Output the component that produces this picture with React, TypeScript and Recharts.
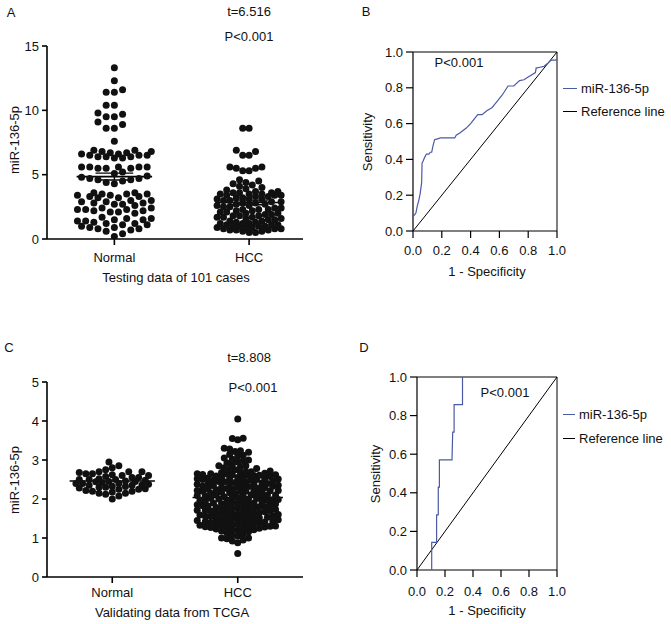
import { ScatterChart, Scatter, XAxis, YAxis, ReferenceLine } from 'recharts';

const FONT = '"Liberation Sans", Arial, Helvetica, sans-serif';
const INK = '#111';
const ROC_BLUE = '#4a5aa6';
const Y_AXIS_W = 40;
const X_AXIS_H = 30;

// ── data ────────────────────────────────────────────────────────────────
const GROUPS = ['Normal', 'HCC'];

const A_NORMAL = [
    13.3, 12.3, 11.6, 11.4, 11.4, 10.4, 10.4, 9.8, 9.7, 9.5, 9.5, 9.1, 8.9, 8.6, 8.6, 7.6,
    6.9, 6.9, 6.8, 6.8, 6.7, 6.7, 6.6, 6.6, 6.5, 6.5, 6.5, 6.4, 6.4, 6.4, 6.3, 6.3,
    5.6, 5.6, 5.6, 5.6, 5.6, 5.5, 5.5, 5.5, 5.2, 5.1,
    4.9, 4.8, 4.7, 4.7, 4.6, 4.6, 4.5, 4.4, 4.3,
    3.6, 3.6, 3.5, 3.5, 3.5, 3.4, 3.4, 3.3, 3.3, 3.2, 3.2,
    3.0, 3.0, 2.9, 2.9, 2.8, 2.8, 2.7, 2.7, 2.6,
    2.4, 2.4, 2.3, 2.3, 2.3, 2.2, 2.2, 2.1, 2.1, 2.0,
    1.7, 1.6, 1.6, 1.5, 1.5, 1.4, 1.4,
    1.3, 1.2, 1.2, 1.1, 1.1, 1.0,
    0.9, 0.9, 0.8, 0.8, 0.7,
    0.6, 0.4, 0.2,
];
const A_HCC = [
    8.6, 8.6, 6.9, 6.8, 6.5, 6.5, 5.6, 5.6, 5.5, 5.5, 5.3, 5.3, 4.6, 4.5, 4.4, 4.3, 4.2, 4.1, 4.0, 3.9,
    3.8, 3.7, 3.7, 3.6, 3.6, 3.6, 3.5, 3.5, 3.5, 3.4, 3.4, 3.4, 3.3, 3.3,
    3.2, 3.2, 3.1, 3.1, 3.1, 3.0, 3.0, 2.9, 2.9, 2.8, 2.8, 2.7, 2.7, 2.6, 2.6,
    2.5, 2.5, 2.4, 2.4, 2.3, 2.3, 2.3, 2.2, 2.2, 2.1, 2.1, 2.0, 2.0,
    1.9, 1.9, 1.8, 1.8, 1.8, 1.7, 1.7, 1.7, 1.6, 1.6, 1.5, 1.5, 1.4, 1.4,
    1.3, 1.3, 1.2, 1.2, 1.2, 1.1, 1.1, 1.1, 1.0, 1.0, 1.0, 1.0,
    0.9, 0.9, 0.9, 0.8, 0.8, 0.8, 0.7, 0.7, 0.7, 0.6, 0.6, 0.5, 0.5,
];
const A_MEANS = [4.85, 2.84];
const A_SEM_LOW = [4.58, 2.66];
const A_SEM_HIGH = [5.12, 3.02];
const A_Y_TICKS = [0, 5, 10, 15];

const C_NORMAL = [
    2.95, 2.85, 2.8, 2.75, 2.7, 2.7, 2.7, 2.68, 2.65, 2.65, 2.62, 2.6, 2.6, 2.58, 2.55, 2.55, 2.52,
    2.5, 2.5, 2.5, 2.48, 2.46, 2.45, 2.45, 2.44, 2.42, 2.4, 2.4, 2.4, 2.38, 2.36, 2.35, 2.35,
    2.33, 2.32, 2.3, 2.3, 2.28, 2.26, 2.25, 2.25, 2.22, 2.2, 2.2, 2.18, 2.15, 2.15, 2.12, 2.08, 2.0,
];
const C_HCC = [
    4.05, 3.56, 3.55, 3.52, 3.3, 3.28, 3.24, 3.22, 3.2, 3.14, 3.12, 3.1, 3.05, 3.02, 3.0,
    2.98, 2.95, 2.92, 2.88, 2.85, 2.85, 2.82, 2.8, 2.78, 2.76, 2.75, 2.72, 2.7, 2.7,
    2.68, 2.67, 2.66, 2.65, 2.65, 2.64, 2.63, 2.62, 2.62, 2.61, 2.6, 2.6, 2.59, 2.58,
    2.56, 2.55, 2.55, 2.54, 2.53, 2.52, 2.52, 2.51, 2.5, 2.5, 2.49, 2.48,
    2.46, 2.45, 2.44, 2.44, 2.43, 2.42, 2.41, 2.4, 2.4, 2.39, 2.38, 2.37,
    2.35, 2.34, 2.33, 2.33, 2.32, 2.31, 2.3, 2.3, 2.29, 2.28, 2.27, 2.26,
    2.25, 2.24, 2.23, 2.22, 2.22, 2.21, 2.2, 2.2, 2.19, 2.18, 2.17, 2.16,
    2.15, 2.14, 2.13, 2.12, 2.11, 2.1, 2.1, 2.09, 2.08, 2.07, 2.06, 2.05,
    2.04, 2.03, 2.02, 2.01, 2.0, 2.0, 1.99, 1.98, 1.97, 1.96, 1.95, 1.94,
    1.93, 1.92, 1.91, 1.9, 1.9, 1.89, 1.88, 1.87, 1.86, 1.85, 1.84, 1.83,
    1.82, 1.81, 1.8, 1.8, 1.79, 1.78, 1.77, 1.76, 1.75, 1.74, 1.73, 1.72,
    1.71, 1.7, 1.7, 1.69, 1.68, 1.67, 1.66, 1.65, 1.64, 1.63, 1.62, 1.61,
    1.6, 1.6, 1.59, 1.58, 1.57, 1.56, 1.55, 1.54, 1.53, 1.52, 1.51, 1.5,
    1.5, 1.49, 1.48, 1.47, 1.46, 1.45, 1.44, 1.43, 1.42, 1.41, 1.4, 1.4,
    1.39, 1.38, 1.37, 1.36, 1.35, 1.34, 1.33, 1.32, 1.31, 1.3, 1.3,
    1.29, 1.28, 1.27, 1.26, 1.25, 1.24, 1.23, 1.22, 1.21, 1.2, 1.18, 1.16,
    1.12, 1.1, 1.08, 1.05, 1.0, 1.0, 0.98, 0.95, 0.92, 0.88, 0.6,
];
const C_MEANS = [2.46, 2.04];
const C_Y_TICKS = [0, 1, 2, 3, 4, 5];

const ROC_TICKS = [0, 0.2, 0.4, 0.6, 0.8, 1];
const ROC_B_FPR = [
    0, 0.01, 0.02, 0.03, 0.04, 0.05, 0.06, 0.063, 0.07, 0.08, 0.093, 0.11, 0.12, 0.13, 0.14, 0.15,
    0.17, 0.19, 0.29, 0.3, 0.33, 0.37, 0.4, 0.43, 0.45, 0.48, 0.51, 0.55, 0.56, 0.58, 0.62, 0.66,
    0.7, 0.74, 0.77, 0.8, 0.85, 0.855, 0.88, 0.91, 0.94, 0.96, 0.99, 1.0,
];
const ROC_B_TPR = [
    0.08, 0.09, 0.1, 0.14, 0.17, 0.21, 0.27, 0.38, 0.39, 0.41, 0.43, 0.43, 0.44, 0.44, 0.48, 0.51,
    0.515, 0.52, 0.52, 0.535, 0.55, 0.575, 0.6, 0.63, 0.65, 0.65, 0.67, 0.69, 0.7, 0.72, 0.76, 0.81,
    0.81, 0.84, 0.845, 0.86, 0.885, 0.91, 0.915, 0.92, 0.94, 0.955, 0.955, 0.96,
];
const ROC_D_FPR = [0.105, 0.105, 0.14, 0.14, 0.152, 0.152, 0.16, 0.16, 0.25, 0.255, 0.265, 0.265, 0.325, 0.325];
const ROC_D_TPR = [0, 0.143, 0.143, 0.286, 0.286, 0.429, 0.429, 0.571, 0.571, 0.714, 0.714, 0.857, 0.857, 1.0];

const LEGEND_ITEMS = [
    { name: 'miR-136-5p', color: ROC_BLUE },
    { name: 'Reference line', color: '#000' },
];

// ── layout helpers ──────────────────────────────────────────────────────
type Margin = { top: number; right: number; left: number; bottom: number };

// greedy beeswarm: spread dots sideways so they don't pile up (Prism style)
function swarm(values: number[], center: number, pxX: number, pxY: number,
    minDist: number, maxHalf: number, step: number) {
    const placed: { dx: number; py: number }[] = [];
    const order = values.map((_, i) => i).sort((a, b) => values[a] - values[b]);
    const out: { x: number; y: number }[] = [];
    const nSteps = Math.floor(maxHalf / step);
    for (const i of order) {
        const py = values[i] * pxY;
        let best = 0;
        let bestScore = -1;
        const sides = placed.length % 2 ? [1, -1] : [-1, 1];
        search: for (let k = 0; k <= nSteps; k++) {
            for (const s of k === 0 ? [1] : sides) {
                const dx = s * k * step;
                let md = Infinity;
                for (const p of placed) {
                    if (Math.abs(p.py - py) >= minDist) continue;
                    const d = Math.hypot(p.dx - dx, p.py - py);
                    if (d < md) md = d;
                }
                if (md >= minDist) { best = dx; break search; }
                if (md > bestScore) { bestScore = md; best = dx; }
            }
        }
        placed.push({ dx: best, py });
        out.push({ x: center + best / pxX, y: values[i] });
    }
    return out;
}

const Dot = (p: any) => <circle cx={p.cx} cy={p.cy} r={3.5} fill={INK} />;
const NoDot = () => <g />;

const axisStyle = { stroke: '#000', strokeWidth: 1.6 };
const tickFont = { fontSize: 13, fill: INK, fontFamily: FONT };

interface SwarmProps {
    width: number; height: number; margin: Margin;
    xDomain: [number, number]; yDomain: [number, number]; yTicks: number[];
    groups: { values: number[]; minDist: number; maxHalf: number; step: number }[];
    means: number[]; meanHalf: number[];
    semLow?: number[]; semHigh?: number[];
    xTickMargin: number;
}

function SwarmPanel({ width, height, margin, xDomain, yDomain, yTicks, groups, means, meanHalf, semLow, semHigh, xTickMargin }: SwarmProps) {
    const plotW = width - margin.left - margin.right - Y_AXIS_W;
    const plotH = height - margin.top - margin.bottom - X_AXIS_H;
    const pxX = plotW / (xDomain[1] - xDomain[0]);
    const pxY = plotH / (yDomain[1] - yDomain[0]);
    const pts = groups.map((g, i) => swarm(g.values, i + 1, pxX, pxY, g.minDist, g.maxHalf, g.step));
    return (
        <ScatterChart width={width} height={height} margin={margin}>
            <XAxis type="number" dataKey="x" domain={xDomain} ticks={[1, 2]} interval={0} allowDataOverflow
                tickFormatter={(v: number) => GROUPS[v - 1]} height={X_AXIS_H}
                axisLine={axisStyle} tickLine={axisStyle} tickSize={6} tickMargin={xTickMargin} tick={tickFont} />
            <YAxis type="number" dataKey="y" domain={yDomain} ticks={yTicks} interval={0} allowDataOverflow width={Y_AXIS_W}
                axisLine={axisStyle} tickLine={axisStyle} tickSize={5} tickMargin={3} tick={tickFont} />
            {pts.map((d, i) => (
                <Scatter key={i} data={d} shape={Dot} isAnimationActive={false} />
            ))}
            {means.map((m, i) => (
                <ReferenceLine key={'m' + i} ifOverflow="visible" stroke="#000" strokeWidth={1.6}
                    segment={[{ x: i + 1 - meanHalf[i], y: m }, { x: i + 1 + meanHalf[i], y: m }]} />
            ))}
            {semLow && semHigh && means.map((_, i) => (
                <g key={'s' + i}>
                    <ReferenceLine ifOverflow="visible" stroke="#000" strokeWidth={1.4}
                        segment={[{ x: i + 0.86, y: semHigh[i] }, { x: i + 1.14, y: semHigh[i] }]} />
                    <ReferenceLine ifOverflow="visible" stroke="#000" strokeWidth={1.4}
                        segment={[{ x: i + 0.86, y: semLow[i] }, { x: i + 1.14, y: semLow[i] }]} />
                    <ReferenceLine ifOverflow="visible" stroke="#000" strokeWidth={1.4}
                        segment={[{ x: i + 1, y: semLow[i] }, { x: i + 1, y: semHigh[i] }]} />
                </g>
            ))}
        </ScatterChart>
    );
}

interface RocProps {
    width: number; height: number; margin: Margin;
    fpr: number[]; tpr: number[]; xTickMargin: number;
}

function RocPanel({ width, height, margin, fpr, tpr, xTickMargin }: RocProps) {
    const curve = fpr.map((x, i) => ({ x, y: tpr[i] }));
    const thin = { stroke: '#000', strokeWidth: 1.2 };
    return (
        <ScatterChart width={width} height={height} margin={margin}>
            <XAxis type="number" dataKey="x" domain={[0, 1]} ticks={ROC_TICKS} interval={0} height={X_AXIS_H}
                tickFormatter={(v: number) => v.toFixed(1)} axisLine={thin} tickLine={thin} tickSize={7}
                tickMargin={xTickMargin} tick={tickFont} />
            <YAxis type="number" dataKey="y" domain={[0, 1]} ticks={ROC_TICKS} interval={0} width={Y_AXIS_W}
                tickFormatter={(v: number) => v.toFixed(1)} axisLine={thin} tickLine={thin} tickSize={7}
                tickMargin={3} tick={tickFont} />
            <ReferenceLine y={1} stroke="#000" strokeWidth={1} />
            <ReferenceLine x={1} stroke="#000" strokeWidth={1} />
            <ReferenceLine segment={[{ x: 0, y: 0 }, { x: 1, y: 1 }]} stroke="#000" strokeWidth={1} />
            <Scatter data={curve} shape={NoDot} line={{ stroke: ROC_BLUE, strokeWidth: 1.2 }} isAnimationActive={false} />
        </ScatterChart>
    );
}

// ── text overlays ───────────────────────────────────────────────────────
const Txt = ({ x, y, children, rotate }: { x: number; y: number; children: string; rotate?: boolean }) => (
    <div style={{
        position: 'absolute', left: x, top: y, whiteSpace: 'nowrap', fontSize: 13, color: INK,
        transform: `translate(-50%, -50%)${rotate ? ' rotate(-90deg)' : ''}`,
    }}>{children}</div>
);

const LegendBox = ({ x, y, gap, lineW }: { x: number; y: number; gap: number; lineW: number }) => (
    <>
        {LEGEND_ITEMS.map((it, i) => (
            <div key={it.name} style={{ position: 'absolute', left: x, top: y + i * gap - 8, height: 16, display: 'flex', alignItems: 'center', fontSize: 13, color: INK, whiteSpace: 'nowrap' }}>
                <span style={{ display: 'inline-block', width: lineW, borderTop: `1.2px solid ${it.color}`, marginRight: 4 }} />
                {it.name}
            </div>
        ))}
    </>
);

export default function App() {
    return (
        <div style={{ position: 'absolute', left: 0, top: 0, width: 671, height: 624, background: '#fff', fontFamily: FONT }}>
            {/* ── A: testing set dot plot ─────────────────────────────── */}
            <div style={{ position: 'absolute', left: 0, top: 0 }}>
                <SwarmPanel width={330} height={290} margin={{ top: 46, right: 27, left: 7, bottom: 21 }}
                    xDomain={[0.5, 2.4]} yDomain={[0, 15]} yTicks={A_Y_TICKS} xTickMargin={8}
                    groups={[
                        { values: A_NORMAL, minDist: 8.2, maxHalf: 38, step: 4.1 },
                        { values: A_HCC, minDist: 6.4, maxHalf: 33, step: 3.2 },
                    ]}
                    means={A_MEANS} meanHalf={[0.28, 0.25]} semLow={A_SEM_LOW} semHigh={A_SEM_HIGH} />
            </div>
            <Txt x={11} y={12}>A</Txt>
            <Txt x={249} y={11}>t=6.516</Txt>
            <Txt x={249} y={36}>P&lt;0.001</Txt>
            <Txt x={14} y={140} rotate>miR-136-5p</Txt>
            <Txt x={176} y={277}>Testing data of 101 cases</Txt>

            {/* ── B: ROC testing set ──────────────────────────────────── */}
            <div style={{ position: 'absolute', left: 330, top: 0 }}>
                <RocPanel width={341} height={290} margin={{ top: 52, right: 114, left: 43, bottom: 29 }}
                    fpr={ROC_B_FPR} tpr={ROC_B_TPR} xTickMargin={8} />
            </div>
            <Txt x={366} y={11}>B</Txt>
            <Txt x={459} y={62}>P&lt;0.001</Txt>
            <Txt x={367} y={142} rotate>Sensitivity</Txt>
            <Txt x={487} y={271}>1 - Specificity</Txt>
            <LegendBox x={563} y={88} gap={23} lineW={14} />

            {/* ── C: TCGA dot plot ────────────────────────────────────── */}
            <div style={{ position: 'absolute', left: 0, top: 310 }}>
                <SwarmPanel width={330} height={314} margin={{ top: 72, right: 27, left: 7, bottom: 17 }}
                    xDomain={[0.48, 2.52]} yDomain={[0, 5]} yTicks={C_Y_TICKS} xTickMargin={5}
                    groups={[
                        { values: C_NORMAL, minDist: 6.6, maxHalf: 37, step: 3.3 },
                        { values: C_HCC, minDist: 5.4, maxHalf: 41, step: 2.7 },
                    ]}
                    means={C_MEANS} meanHalf={[0.34, 0.36]} />
            </div>
            <Txt x={9} y={347}>C</Txt>
            <Txt x={249} y={357}>t=8.808</Txt>
            <Txt x={253} y={387}>P&lt;0.001</Txt>
            <Txt x={14} y={480} rotate>miR-136-5p</Txt>
            <Txt x={172} y={612}>Validating data from TCGA</Txt>

            {/* ── D: ROC TCGA ─────────────────────────────────────────── */}
            <div style={{ position: 'absolute', left: 330, top: 310 }}>
                <RocPanel width={341} height={314} margin={{ top: 67, right: 114, left: 47, bottom: 24 }}
                    fpr={ROC_D_FPR} tpr={ROC_D_TPR} xTickMargin={10} />
            </div>
            <Txt x={364} y={347}>D</Txt>
            <Txt x={505} y={392}>P&lt;0.001</Txt>
            <Txt x={375} y={474} rotate>Sensitivity</Txt>
            <Txt x={487} y={610}>1 - Specificity</Txt>
            <LegendBox x={563} y={414} gap={24} lineW={12} />
        </div>
    );
}
